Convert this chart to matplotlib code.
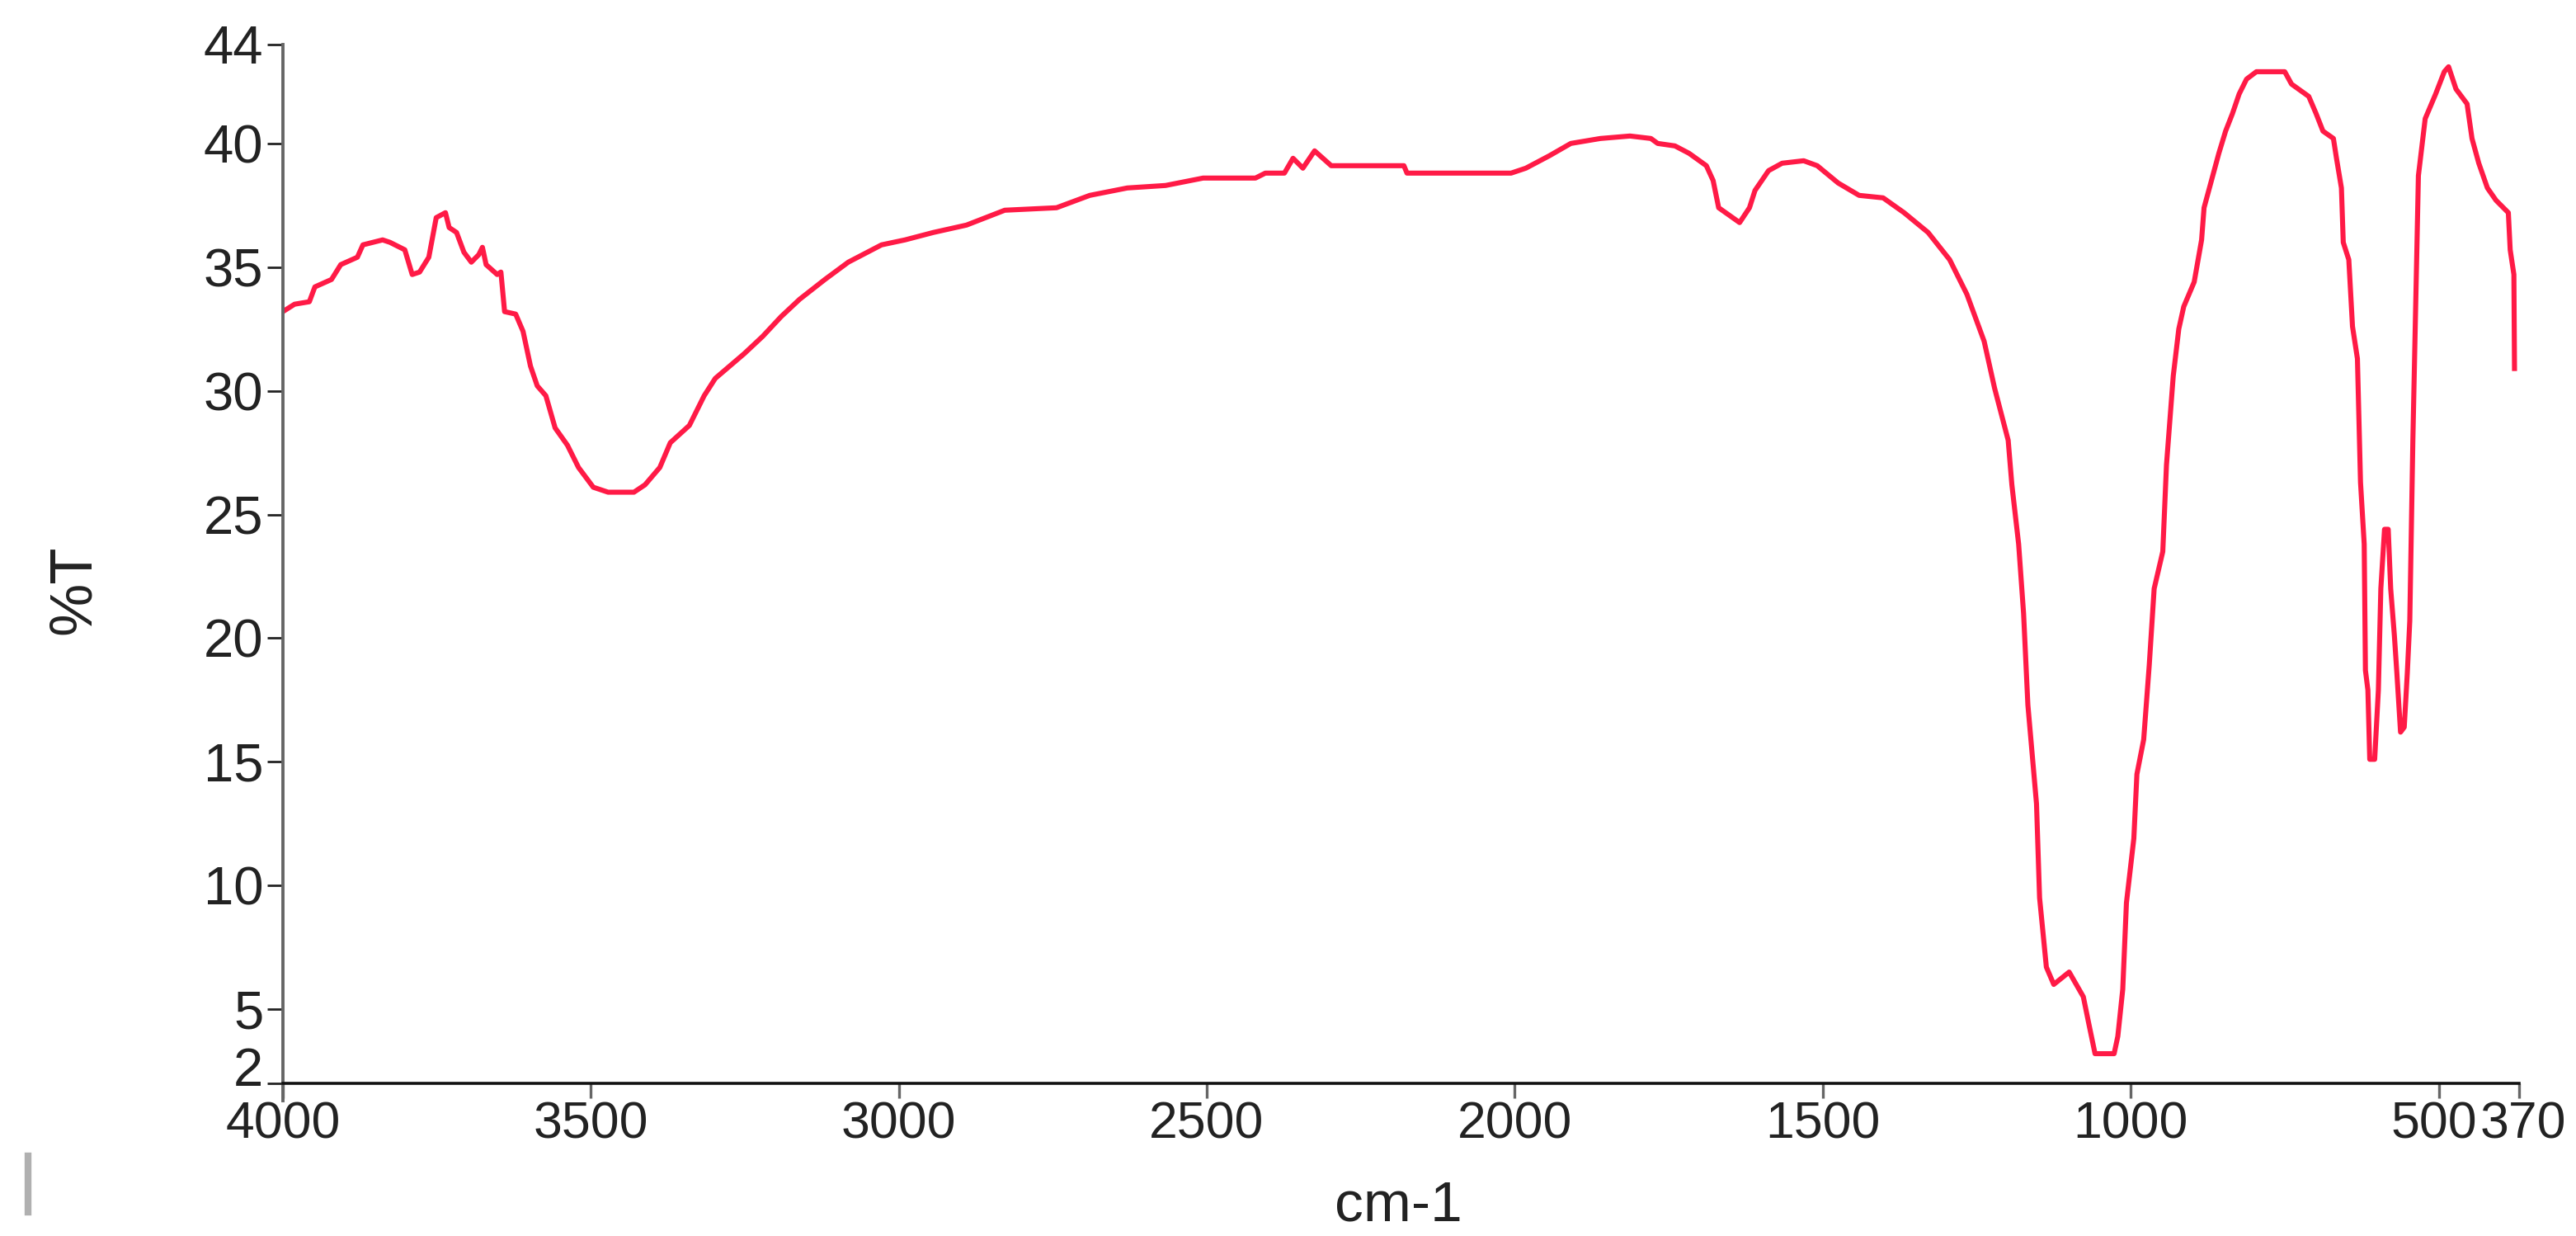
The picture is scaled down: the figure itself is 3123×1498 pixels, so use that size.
import matplotlib.pyplot as plt
from matplotlib.lines import Line2D
from matplotlib.transforms import ScaledTranslation

# FTIR spectrum
wavenumber = [4000, 3981, 3957, 3948, 3921, 3906, 3879, 3870, 3838, 3826,
              3802, 3790, 3778, 3763, 3751, 3736, 3730, 3718, 3706, 3694,
              3682, 3676, 3670, 3652, 3646, 3640, 3622, 3610, 3598, 3587,
              3573, 3558, 3538, 3520, 3496, 3472, 3430, 3412, 3388, 3371,
              3340, 3316, 3298, 3251, 3221, 3191, 3161, 3120, 3082, 3028,
              2990, 2944, 2890, 2828, 2744, 2690, 2629, 2567, 2506, 2421,
              2405, 2374, 2360, 2344, 2325, 2298, 2180, 2175, 2006, 1982,
              1944, 1909, 1861, 1813, 1779, 1768, 1740, 1717, 1689, 1678,
              1669, 1635, 1619, 1610, 1588, 1566, 1531, 1509, 1475, 1441,
              1402, 1368, 1329, 1294, 1266, 1238, 1221, 1199, 1193, 1182,
              1174, 1167, 1153, 1148, 1137, 1125, 1100, 1077, 1068, 1058,
              1027, 1021, 1013, 1007, 995, 990, 979, 970, 962, 948,
              942, 931, 922, 914, 897, 885, 881, 869, 857, 846,
              835, 824, 812, 796, 750, 739, 711, 699, 688, 671,
              666, 658, 655, 646, 640, 632, 627, 621, 619, 615,
              612, 604, 598, 594, 588, 582, 578, 572, 568, 562,
              556, 551, 547, 542, 533, 522, 505, 491, 484, 472,
              454, 446, 435, 421, 407, 387, 384, 378, 377]
transmittance = [33.2, 33.5, 33.6, 34.2, 34.5, 35.1, 35.4, 35.9, 36.1, 36.0,
                 35.7, 34.7, 34.8, 35.4, 37.0, 37.2, 36.6, 36.4, 35.6, 35.2,
                 35.5, 35.8, 35.1, 34.7, 34.8, 33.2, 33.1, 32.4, 31.0, 30.2,
                 29.8, 28.5, 27.8, 26.9, 26.1, 25.9, 25.9, 26.2, 26.9, 27.9,
                 28.6, 29.8, 30.5, 31.5, 32.2, 33.0, 33.7, 34.5, 35.2, 35.9,
                 36.1, 36.4, 36.7, 37.3, 37.4, 37.9, 38.2, 38.3, 38.6, 38.6,
                 38.8, 38.8, 39.4, 39.0, 39.7, 39.1, 39.1, 38.8, 38.8, 39.0,
                 39.5, 40.0, 40.2, 40.3, 40.2, 40.0, 39.9, 39.6, 39.1, 38.5,
                 37.4, 36.8, 37.4, 38.1, 38.9, 39.2, 39.3, 39.1, 38.4, 37.9,
                 37.8, 37.2, 36.4, 35.3, 33.9, 32.0, 30.1, 28.0, 26.2, 23.8,
                 21.0, 17.3, 13.3, 9.5, 6.7, 6.0, 6.5, 5.5, 4.4, 3.2,
                 3.2, 3.9, 5.8, 9.3, 11.9, 14.5, 15.9, 18.9, 22.0, 23.5,
                 27.0, 30.6, 32.5, 33.4, 34.4, 36.1, 37.4, 38.5, 39.6, 40.5,
                 41.2, 42.0, 42.6, 42.9, 42.9, 42.4, 41.9, 41.2, 40.5, 40.2,
                 39.4, 38.2, 36.0, 35.3, 32.6, 31.3, 26.3, 23.8, 18.7, 17.9,
                 15.1, 15.1, 17.9, 22.0, 24.4, 24.4, 22.0, 20.1, 18.6, 16.2,
                 16.4, 18.6, 20.7, 28.0, 38.7, 41.0, 42.0, 42.9, 43.1, 42.2,
                 41.6, 40.2, 39.2, 38.2, 37.7, 37.2, 35.7, 34.7, 30.9]

x_ticks = [4000, 3500, 3000, 2500, 2000, 1500, 1000, 500, 370]
y_ticks = [2, 5, 10, 15, 20, 25, 30, 35, 40, 44]

plt.rcParams['font.family'] = ['Liberation Sans', 'DejaVu Sans']

fig = plt.figure(figsize=(31.23, 14.98), dpi=100)
ax = fig.add_axes([0.1098, 0.1235, 0.868, 0.8405])

ax.plot(wavenumber, transmittance, color='#ff1a46', lw=4.4)

ax.set_xlim(4000, 370)
ax.set_ylim(2, 44)
ax.set_xticks(x_ticks)
ax.set_xticklabels([str(t) for t in x_ticks])
ax.set_yticks(y_ticks)
ax.set_yticklabels([str(t) for t in y_ticks])

ax.spines['top'].set_visible(False)
ax.spines['right'].set_visible(False)
ax.spines['left'].set_color('#666666')
ax.spines['left'].set_linewidth(2.8)
ax.spines['left'].set_bounds(1.3, 44)
ax.spines['bottom'].set_color('#111111')
ax.spines['bottom'].set_linewidth(2.6)

ax.tick_params(axis='y', length=14, width=2.0, color='#222222', pad=3,
               labelsize=47, labelcolor='#222222')
ax.tick_params(axis='x', length=13, width=2.4, color='#666666', pad=2,
               labelsize=45, labelcolor='#222222')

# nudge labels that would otherwise run into each other
def nudge(lbl, dx, dy):
    lbl.set_transform(lbl.get_transform() + ScaledTranslation(dx / 72, dy / 72, fig.dpi_scale_trans))

nudge(ax.get_yticklabels()[0], 0, 15)
xl = ax.get_xticklabels()
nudge(xl[-2], -4, 0)
nudge(xl[-1], 4, 0)

fig.text(0.029, 0.523, '%T', rotation=90, fontsize=52, color='#222222',
         ha='center', va='center')
fig.text(0.543, 0.003, 'cm-1', fontsize=50, color='#222222',
         ha='center', va='bottom')

# small grey mark in the lower left corner of the original
fig.add_artist(Line2D([0.0109, 0.0109], [0.0194, 0.065], color='#b0b0b0', lw=6))

fig.savefig('out.png', dpi=100, facecolor='white')
